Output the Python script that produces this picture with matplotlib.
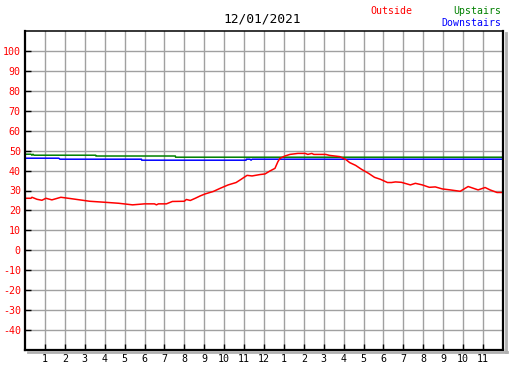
#Import
import matplotlib
matplotlib.use("Agg")
import matplotlib.pyplot as plt
from matplotlib.lines import Line2D

#Daten (Stunden seit Mitternacht, Temperatur)
out_h = [0.0, 0.3, 0.35, 0.6, 0.85, 1.05, 1.35, 1.8, 2.25, 2.75, 3.25, 4.0, 4.7, 5.4,
         6.0, 6.5, 6.6, 6.7, 7.1, 7.4, 8.0, 8.1, 8.3, 8.55, 8.8, 9.05, 9.45, 9.8,
         10.2, 10.6, 10.85, 11.15, 11.4, 11.8, 12.05, 12.3, 12.55, 12.7, 12.8, 13.05,
         13.3, 13.7, 14.07, 14.2, 14.4, 14.5, 15.1, 15.3, 15.8, 16.1, 16.3, 16.6,
         16.9, 17.25, 17.55, 17.85, 18.2, 18.4, 18.6, 18.9, 19.35, 19.6, 19.95, 20.3,
         20.6, 20.95, 21.35, 21.85, 22.25, 22.75, 23.1, 23.35, 23.7, 24.0]
out_t = [26.1, 26.1, 26.6, 25.6, 25.1, 26.1, 25.3, 26.6, 26.0, 25.3, 24.6, 24.1, 23.6, 22.8,
         23.3, 23.3, 22.8, 23.3, 23.3, 24.5, 24.6, 25.5, 25.0, 26.1, 27.3, 28.3, 29.5, 31.1,
         32.8, 34.0, 35.6, 37.6, 37.3, 38.0, 38.3, 39.8, 41.1, 44.5, 46.1, 47.3,
         48.1, 48.6, 48.6, 48.1, 48.6, 48.1, 48.1, 47.6, 47.0, 45.6, 44.0, 42.6,
         40.6, 38.6, 36.6, 35.6, 34.0, 34.0, 34.3, 34.1, 32.8, 33.6, 32.8, 31.6,
         31.8, 30.8, 30.3, 29.6, 32.0, 30.3, 31.5, 30.3, 29.0, 29.0]

up_h = [0.0, 0.3, 0.35, 0.4, 0.45, 3.55, 3.56, 7.55, 7.56, 24.0]
up_t = [48.2, 48.2, 47.7, 48.2, 47.7, 47.7, 47.3, 47.3, 46.7, 46.7]

down_h = [0.0, 1.7, 1.75, 1.8, 5.85, 5.86, 11.1, 11.11, 11.3, 11.35, 11.4, 24.0]
down_t = [46.2, 46.2, 45.7, 45.7, 45.7, 45.2, 45.2, 45.7, 45.7, 45.2, 45.7, 45.7]

x_ticks = list(range(1, 24))
x_labels = [str(h) for h in range(1, 13)] + [str(h) for h in range(1, 12)]
y_ticks = list(range(-40, 101, 10))

titel = "12/01/2021"
mono = "DejaVu Sans Mono"

#Diagramm
fig = plt.figure(figsize=(5.27, 3.70), dpi=100)
ax = fig.add_axes([25/527, 20/370, 478/527, 319/370])

ax.set_xlim(0, 24)
ax.set_ylim(-50, 110)
ax.set_xticks(x_ticks)
ax.set_xticklabels(x_labels, fontfamily=mono, fontsize=7.2)
ax.set_yticks(y_ticks)
ax.set_yticklabels([str(v) for v in y_ticks], fontfamily=mono, fontsize=7.2, color="red")
ax.tick_params(direction="in", length=4, width=1, pad=3, color="black")
ax.grid(True, color="#a0a0a0", linewidth=1)
ax.set_axisbelow(True)

for s in ["left", "right", "bottom"]:
    ax.spines[s].set_linewidth(1.6)
ax.spines["top"].set_linewidth(1.1)

ax.plot(up_h, up_t, color="green", linewidth=1.1)
ax.plot(down_h, down_t, color="blue", linewidth=1.1)
ax.plot(out_h, out_t, color="red", linewidth=1.1)

#Schatten rechts und unten
fig.add_artist(Line2D([505.5/527, 505.5/527], [1-33/370, 1-352/370], color="#b0b0b0", linewidth=2))
fig.add_artist(Line2D([28/527, 506.5/527], [1-351.5/370, 1-351.5/370], color="#b0b0b0", linewidth=2))

fig.text(262/527, 1-19/370, titel, fontfamily=mono, fontsize=9.3, ha="center", va="center")
fig.text(370/527, 1-11/370, "Outside", fontfamily=mono, fontsize=7.1, color="red", va="center")
fig.text(501/527, 1-11/370, "Upstairs", fontfamily=mono, fontsize=7.1, color="green", ha="right", va="center")
fig.text(501/527, 1-23/370, "Downstairs", fontfamily=mono, fontsize=7.1, color="blue", ha="right", va="center")

plt.savefig("out.png", dpi=100)
